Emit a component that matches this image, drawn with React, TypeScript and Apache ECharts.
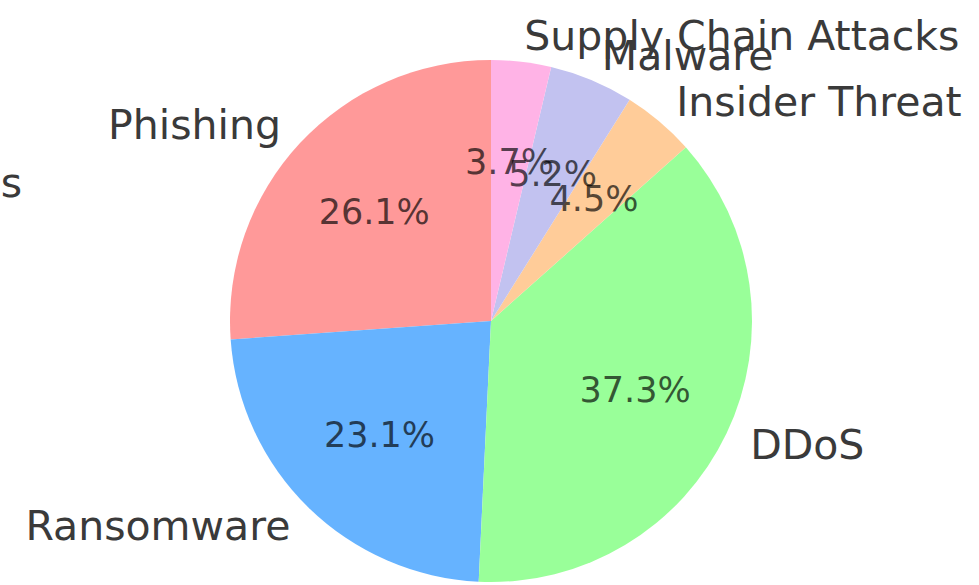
import React, { useEffect, useRef } from "react";
import * as echarts from "echarts";

const categories = ["Phishing", "Ransomware", "DDoS", "Insider Threat", "Malware", "Supply Chain Attacks"];
const shares = [26.1, 23.1, 37.3, 4.5, 5.2, 3.7];
const colors = ["#ff9999", "#66b3ff", "#99ff99", "#ffcc99", "#c2c2f0", "#ffb3e6"];

const CX = 491;
const CY = 321;
const R = 261;
const FONT = "DejaVu Sans, sans-serif";

export default function App() {
  const ref = useRef<HTMLDivElement>(null);
  useEffect(() => {
    if (!ref.current) return;
    const chart = echarts.init(ref.current, undefined, { renderer: "svg" });
    const data = categories.map((name, i) => ({
      name,
      value: shares[i],
      itemStyle: { color: colors[i] },
    }));
    chart.setOption({
      animation: false,
      backgroundColor: "#ffffff",
      graphic: [
        {
          type: "text",
          x: 22,
          y: 183,
          style: {
            text: "s",
            fontSize: 41,
            fontFamily: FONT,
            fill: "#3a3a3a",
            textAlign: "right",
            textVerticalAlign: "middle",
          },
        },
      ],
      series: [
        {
          type: "pie",
          center: [CX, CY],
          radius: [0, R],
          startAngle: 90,
          clockwise: false,
          avoidLabelOverlap: false,
          minShowLabelAngle: 0,
          silent: true,
          data,
          label: {
            show: true,
            position: "outside",
            formatter: "{b}",
            fontSize: 41,
            fontFamily: FONT,
            color: "#3a3a3a",
            distanceToLabelLine: 0,
          },
          labelLayout: { hideOverlap: false },
          labelLine: { show: false, length: R * 0.1, length2: 0 },
          itemStyle: { borderWidth: 0 },
          emphasis: { disabled: true },
        },
        {
          type: "pie",
          center: [CX, CY],
          radius: [R * 0.2, R],
          startAngle: 90,
          clockwise: false,
          avoidLabelOverlap: false,
          minShowLabelAngle: 0,
          silent: true,
          data: categories.map((name, i) => ({ name, value: shares[i] })),
          itemStyle: { color: "rgba(0,0,0,0)", borderWidth: 0 },
          label: {
            show: true,
            position: "inside",
            formatter: (p: any) => p.value.toFixed(1) + "%",
            fontSize: 35,
            fontFamily: FONT,
            color: "rgba(0,0,0,0.68)",
          },
          labelLayout: { hideOverlap: false },
          labelLine: { show: false },
          emphasis: { disabled: true },
        },
      ],
    });
    return () => chart.dispose();
  }, []);
  return (
    <div
      ref={ref}
      style={{ position: "fixed", left: 0, top: 0, width: 979, height: 585 }}
    />
  );
}
